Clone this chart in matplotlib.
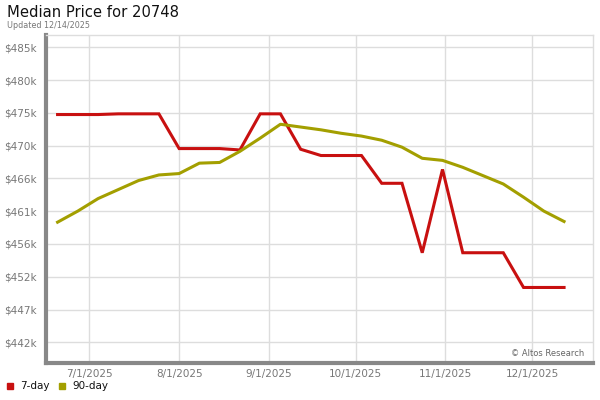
import matplotlib
matplotlib.use("Agg")
import matplotlib.pyplot as plt
import matplotlib.dates as mdates
import numpy as np
import datetime as dt

title = "Median Price for 20748"
subtitle = "Updated 12/14/2025"

start_date = dt.date(2025, 6, 20)
n_weeks = 26
dates = [start_date + dt.timedelta(days=7 * i) for i in range(n_weeks)]

seven_day = [474.9, 474.9, 474.9, 475.0, 475.0, 475.0, 470.0, 470.0, 470.0, 469.8,
             475.0, 475.0, 469.9, 469.0, 469.0, 469.0, 465.0, 465.0, 455.0, 467.0,
             455.0, 455.0, 455.0, 450.0, 450.0, 450.0]
ninety_day = [459.4, 461.0, 462.8, 464.1, 465.4, 466.2, 466.4, 467.9, 468.0, 469.6,
              471.5, 473.5, 473.1, 472.7, 472.2, 471.8, 471.2, 470.2, 468.6, 468.3,
              467.3, 466.1, 464.9, 463.0, 461.0, 459.5]

y_ticks = [442.1 + 4.72 * i for i in range(10)]
y_tick_labels = ["$442k", "$447k", "$452k", "$456k", "$461k", "$466k",
                 "$470k", "$475k", "$480k", "$485k"]
x_ticks = [dt.date(2025, m, 1) for m in range(7, 13)]
x_tick_labels = ["7/1/2025", "8/1/2025", "9/1/2025", "10/1/2025", "11/1/2025", "12/1/2025"]

red = "#c81010"
olive = "#a39f00"

fig = plt.figure(figsize=(6, 4), dpi=100)
ax = fig.add_axes([46 / 600, 1 - 363.3 / 400, (593 - 46) / 600, (363.3 - 35.3) / 400])

ax.plot(dates, seven_day, color=red, lw=2.2, solid_joinstyle="miter")
ax.plot(dates, ninety_day, color=olive, lw=2.2)

ax.set_xlim(dt.date(2025, 6, 16) + dt.timedelta(hours=10), dt.date(2025, 12, 22) + dt.timedelta(hours=12))
ax.set_ylim(439.08, 486.31)
ax.set_yticks(y_ticks)
ax.set_yticklabels(y_tick_labels)
ax.set_xticks(x_ticks)
ax.set_xticklabels(x_tick_labels)

ax.grid(True, color="#dddddd", lw=1)
ax.set_axisbelow(True)
ax.tick_params(axis="both", length=0, labelsize=7.5, labelcolor="#777777")
ax.tick_params(axis="y", pad=7)
ax.tick_params(axis="x", pad=4)
for s in ["top", "right"]:
    ax.spines[s].set_color("#dddddd")
    ax.spines[s].set_linewidth(1)
for s in ["left", "bottom"]:
    ax.spines[s].set_color("#888888")
    ax.spines[s].set_linewidth(3)

fig.text(7 / 600, 1 - 12.5 / 400, title, fontsize=10.6, color="#111111", va="center", ha="left")
fig.text(7 / 600, 1 - 25 / 400, subtitle, fontsize=5.8, color="#777777", va="center", ha="left")
ax.text(0.984, 0.03, "© Altos Research", transform=ax.transAxes, fontsize=6,
        color="#666666", ha="right", va="center")

# legend
fig.patches.append(plt.Rectangle((7 / 600, 1 - 389 / 400), 6 / 600, 6 / 400,
                                 transform=fig.transFigure, color=red, figure=fig))
fig.text(20 / 600, 1 - 386 / 400, "7-day", fontsize=7.5, color="#111111", va="center")
fig.patches.append(plt.Rectangle((59 / 600, 1 - 389 / 400), 6 / 600, 6 / 400,
                                 transform=fig.transFigure, color=olive, figure=fig))
fig.text(72 / 600, 1 - 386 / 400, "90-day", fontsize=7.5, color="#111111", va="center")

fig.savefig("out.png", dpi=100)
